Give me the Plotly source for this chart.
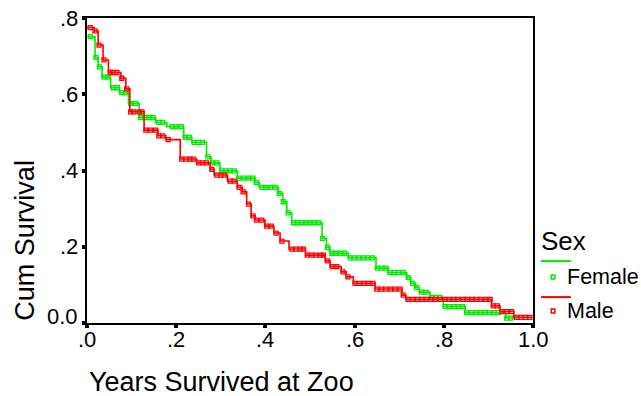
import numpy as np
import plotly.graph_objects as go

# ---------------- data ----------------
x_tick_vals = [0.0, 0.2, 0.4, 0.6, 0.8, 1.0]
x_tick_text = [".0", ".2", ".4", ".6", ".8", "1.0"]
y_tick_vals = [0.0, 0.2, 0.4, 0.6, 0.8]
y_tick_text = ["0.0", ".2", ".4", ".6", ".8"]

female_start = 0.751
female_event_times = [0.018, 0.025, 0.034, 0.053, 0.073, 0.093, 0.117, 0.154, 0.179, 0.217,
                      0.235, 0.268, 0.278, 0.298, 0.337, 0.377, 0.386, 0.429, 0.439, 0.448,
                      0.459, 0.527, 0.537, 0.545, 0.586, 0.648, 0.676, 0.717, 0.726, 0.737,
                      0.745, 0.769, 0.799, 0.848, 0.939]
female_surv = [0.696, 0.672, 0.645, 0.617, 0.604, 0.576, 0.539, 0.526, 0.515, 0.487,
               0.474, 0.436, 0.420, 0.399, 0.380, 0.368, 0.356, 0.340, 0.318, 0.289,
               0.263, 0.222, 0.198, 0.183, 0.171, 0.144, 0.132, 0.119, 0.104, 0.093,
               0.081, 0.067, 0.043, 0.027, 0.013]
female_end = 0.957
female_censored = [0.008, 0.020, 0.028, 0.038, 0.047, 0.059, 0.068, 0.078, 0.087, 0.098,
                   0.109, 0.120, 0.129, 0.139, 0.148, 0.161, 0.170, 0.191, 0.199, 0.211,
                   0.220, 0.229, 0.240, 0.250, 0.259, 0.271, 0.281, 0.291, 0.302, 0.312,
                   0.321, 0.330, 0.341, 0.352, 0.362, 0.372, 0.380, 0.392, 0.401, 0.412,
                   0.422, 0.431, 0.440, 0.451, 0.463, 0.472, 0.481, 0.491, 0.500, 0.509,
                   0.519, 0.528, 0.539, 0.549, 0.558, 0.569, 0.578, 0.590, 0.599, 0.610,
                   0.620, 0.629, 0.640, 0.651, 0.661, 0.670, 0.679, 0.689, 0.699, 0.709,
                   0.720, 0.730, 0.739, 0.750, 0.760, 0.773, 0.783, 0.791, 0.803, 0.812,
                   0.823, 0.833, 0.842, 0.851, 0.863, 0.872, 0.883, 0.892, 0.902, 0.913,
                   0.922, 0.941, 0.950]

male_start = 0.775
male_event_times = [0.016, 0.025, 0.036, 0.048, 0.076, 0.087, 0.096, 0.128, 0.159, 0.177,
                    0.209, 0.246, 0.276, 0.285, 0.315, 0.337, 0.348, 0.358, 0.368, 0.377,
                    0.399, 0.419, 0.433, 0.453, 0.490, 0.534, 0.545, 0.570, 0.581, 0.597,
                    0.646, 0.706, 0.715, 0.907, 0.926, 0.957]
male_surv = [0.766, 0.729, 0.690, 0.657, 0.642, 0.614, 0.554, 0.506, 0.491, 0.481,
             0.430, 0.420, 0.403, 0.388, 0.372, 0.356, 0.344, 0.312, 0.281, 0.270,
             0.254, 0.236, 0.215, 0.194, 0.178, 0.163, 0.148, 0.134, 0.121, 0.104,
             0.089, 0.073, 0.062, 0.045, 0.030, 0.015]
male_end = 0.998
male_censored = [0.007, 0.018, 0.027, 0.038, 0.052, 0.058, 0.067, 0.078, 0.089, 0.098,
                 0.105, 0.117, 0.123, 0.132, 0.143, 0.154, 0.161, 0.170, 0.182, 0.212,
                 0.222, 0.231, 0.238, 0.250, 0.259, 0.268, 0.280, 0.291, 0.300, 0.308,
                 0.321, 0.330, 0.341, 0.350, 0.362, 0.372, 0.380, 0.392, 0.403, 0.413,
                 0.424, 0.437, 0.459, 0.469, 0.478, 0.485, 0.494, 0.504, 0.513, 0.524,
                 0.530, 0.539, 0.550, 0.560, 0.574, 0.585, 0.601, 0.611, 0.621, 0.631,
                 0.641, 0.650, 0.660, 0.670, 0.681, 0.691, 0.702, 0.709, 0.720, 0.730,
                 0.741, 0.751, 0.761, 0.771, 0.781, 0.792, 0.802, 0.812, 0.822, 0.832,
                 0.843, 0.853, 0.863, 0.873, 0.883, 0.894, 0.904, 0.911, 0.920, 0.930,
                 0.941, 0.952, 0.963, 0.973, 0.983, 0.993]

series = [
    ("Female", female_start, female_event_times, female_surv, female_end, female_censored, "rgb(0,235,0)"),
    ("Male", male_start, male_event_times, male_surv, male_end, male_censored, "rgb(255,0,0)"),
]

FONT = "Liberation Sans, Arial, sans-serif"


def step_value(t, start, times, surv):
    idx = np.searchsorted(np.array(times), t, side="right")
    return start if idx == 0 else surv[idx - 1]


fig = go.Figure()
for name, s0, times, surv, t_end, cens, color in series:
    xs = [0.0] + list(times) + [t_end]
    ys = [s0] + list(surv) + [surv[-1]]
    fig.add_trace(go.Scatter(x=xs, y=ys, mode="lines", line=dict(color=color, width=1.6, shape="hv"),
                             showlegend=False, hoverinfo="skip"))
    cy = [step_value(t, s0, times, surv) for t in cens]
    fig.add_trace(go.Scatter(x=cens, y=cy, mode="markers",
                             marker=dict(symbol="square-open", size=4, color=color, line=dict(width=1.3, color=color)),
                             showlegend=False, hoverinfo="skip"))

annotations = []
# y tick labels
for v, t in zip(y_tick_vals, y_tick_text):
    annotations.append(dict(x=-0.016, y=v, xref="paper", yref="y", text=t, showarrow=False,
                            xanchor="right", yanchor="middle", yshift=7 if v == 0 else 0,
                            font=dict(family=FONT, size=22, color="black")))
# x tick labels
for v, t in zip(x_tick_vals, x_tick_text):
    annotations.append(dict(x=v, y=0, xref="x", yref="paper", text=t, showarrow=False,
                            xanchor="center", yanchor="middle", yshift=-16,
                            font=dict(family=FONT, size=22, color="black")))
# axis titles
annotations.append(dict(x=-0.139, y=0.27, xref="paper", yref="paper", text="Cum Survival",
                        textangle=-90, showarrow=False, xanchor="center", yanchor="middle",
                        font=dict(family=FONT, size=27, color="black")))
annotations.append(dict(x=0.0, y=-0.193, xref="paper", yref="paper", text="Years Survived at Zoo",
                        showarrow=False, xanchor="left", yanchor="middle",
                        font=dict(family=FONT, size=27, color="black")))
# legend
annotations.append(dict(x=1.014, y=0.269, xref="paper", yref="paper", text="Sex", showarrow=False,
                        xanchor="left", yanchor="middle", font=dict(family=FONT, size=26, color="black")))
shapes = []
leg_rows = [("Female", "rgb(0,235,0)", 0.203, 0.151), ("Male", "rgb(255,0,0)", 0.085, 0.039)]
for name, color, yl, ym in leg_rows:
    shapes.append(dict(type="line", xref="paper", yref="paper", x0=1.018, x1=1.085, y0=yl, y1=yl,
                       line=dict(color=color, width=2)))
    shapes.append(dict(type="rect", xref="paper", yref="paper", x0=1.041, x1=1.049, y0=ym - 0.0065,
                       y1=ym + 0.0065, line=dict(color=color, width=1.5), fillcolor="white"))
    annotations.append(dict(x=1.071, y=ym, xref="paper", yref="paper", text=name, showarrow=False,
                            xanchor="left", yanchor="middle", font=dict(family=FONT, size=21.5, color="black")))

fig.update_layout(
    width=641, height=396,
    margin=dict(l=87, r=108, t=18, b=73, pad=0),
    paper_bgcolor="white", plot_bgcolor="white",
    showlegend=False,
    annotations=annotations, shapes=shapes,
    xaxis=dict(range=[0, 1], tickvals=x_tick_vals, showticklabels=False, showgrid=False, zeroline=False,
               showline=True, linecolor="black", linewidth=2, mirror=True,
               ticks="outside", ticklen=3, tickwidth=4, tickcolor="black"),
    yaxis=dict(range=[0, 0.8], tickvals=y_tick_vals, showticklabels=False, showgrid=False, zeroline=False,
               showline=True, linecolor="black", linewidth=2, mirror=True,
               ticks="outside", ticklen=3, tickwidth=4, tickcolor="black"),
)

fig.write_html("out.html", config={"displayModeBar": False},
               post_script="document.body.style.margin='0px';document.body.style.padding='0px';"
                           "document.documentElement.style.overflow='hidden';")
